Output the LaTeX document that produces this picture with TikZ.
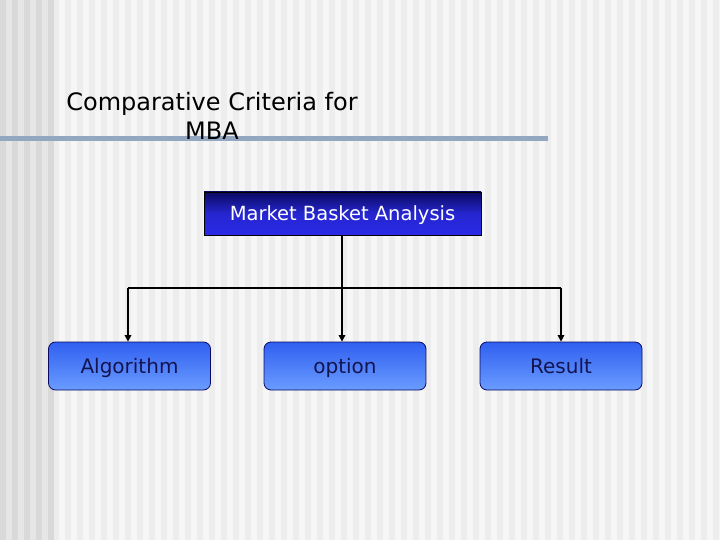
\documentclass[tikz,border=0pt]{standalone}
\usepackage{fontspec}
\setmainfont{DejaVu Sans}
\usetikzlibrary{arrows.meta}
\definecolor{bgA}{HTML}{F6F6F6}
\definecolor{bgB}{HTML}{EDEDED}
\definecolor{bgC}{HTML}{E6E6E6}
\definecolor{bgD}{HTML}{D9D9D9}
\definecolor{rulec}{HTML}{93A8C0}
\definecolor{navy}{HTML}{0A0A60}
\definecolor{brightblue}{HTML}{2A2AE8}
\definecolor{boxtop}{HTML}{3060F0}
\definecolor{boxbot}{HTML}{6A9CFF}
\definecolor{boxtext}{HTML}{141450}
\tikzset{
  topbox/.style={draw=black, line width=0.8bp, top color=navy, bottom color=brightblue, middle color=brightblue!90!black,
    minimum width=277bp, minimum height=43bp, inner sep=0pt, text=white, text height=16bp, text depth=2bp,
    font=\fontsize{19.5bp}{22bp}\selectfont},
  leafbox/.style={draw=navy, line width=0.8bp, rounded corners=7bp, top color=boxtop, bottom color=boxbot,
    minimum width=162bp, minimum height=48bp, inner sep=0pt, text=boxtext, text height=17bp, text depth=1.5bp,
    font=\fontsize{20bp}{24bp}\selectfont},
  conn/.style={draw=black, line width=1.5bp},
  arr/.style={conn, -{Triangle[length=6.5bp,width=6.5bp]}},
}
\begin{document}
\begin{tikzpicture}[x=1bp,y=-1bp]
\useasboundingbox (0,0) rectangle (720,540);
\fill[bgA] (0,0) rectangle (720,540);
\foreach \i in {0,...,59}{
  \fill[bgB] (53+\i*12,0) rectangle (59+\i*12,540);
}
\fill[bgC] (0,0) rectangle (53,540);
\foreach \i in {0,...,4}{
  \fill[bgD] (\i*12,0) rectangle (6+\i*12,540);
}
\fill[rulec] (0,136) rectangle (548,141);
\node[font=\fontsize{24bp}{29bp}\selectfont, align=center, text=black] (title) at (212,116) {Comparative Criteria for\\MBA};
\node[topbox] (mba) at (342.5,213.5) {Market Basket Analysis};
\node[leafbox] (alg) at (129.5,366) {Algorithm};
\node[leafbox] (opt) at (345,366) {option};
\node[leafbox] (res) at (561,366) {Result};
\coordinate (j) at (342,288);
\coordinate (jl) at (128,288);
\coordinate (jr) at (561,288);
\draw[conn] (mba.south -| j) -- (j);
\draw[conn] (jl) -- (jr);
\draw[arr] (jl) -- (alg.north -| jl);
\draw[arr] (j) -- (opt.north -| j);
\draw[arr] (jr) -- (res.north -| jr);
\end{tikzpicture}
\end{document}
